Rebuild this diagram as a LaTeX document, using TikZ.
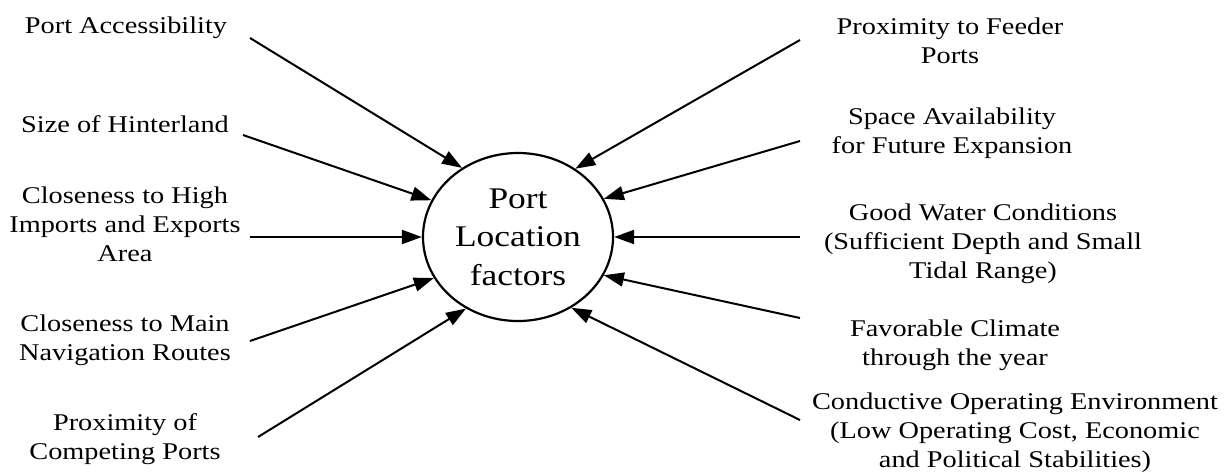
\documentclass[tikz,border=0pt]{standalone}
\usepackage{fontspec}
\setmainfont{Liberation Serif}[FakeStretch=1.18]
\usetikzlibrary{arrows.meta,shapes.geometric}
\tikzset{
  factor/.style={align=center, inner sep=0pt, font=\fontsize{24}{29}\selectfont},
  hub/.style={ellipse, draw, line width=2.2pt, minimum width=190pt, minimum height=168pt,
    inner sep=0pt, align=center, font=\fontsize{30}{38.5}\selectfont},
  link/.style={line width=2pt, -{Triangle[length=20pt,width=14pt]}}
}
\begin{document}
\begin{tikzpicture}[x=1pt,y=-1pt]
\useasboundingbox (0,0) rectangle (1228,475);
\node[hub] (c) at (518,237) {Port\\Location\\factors};

% factors on the left
\node[factor] (l1) at (126,27.4) {Port Accessibility};
\node[factor] (l2) at (125,123.8) {Size of Hinterland};
\node[factor] (l3) at (125,224) {Closeness to High\\Imports and Exports\\Area};
\node[factor] (l4) at (125,340.4) {Closeness to Main\\Navigation Routes};
\node[factor] (l5) at (125,438.9) {Proximity of\\Competing Ports};

% factors on the right
\node[factor] (r1) at (950,40.8) {Proximity to Feeder\\Ports};
\node[factor] (r2) at (952,133) {Space Availability\\for Future Expansion};
\node[factor] (r3) at (983,243.4) {Good Water Conditions\\(Sufficient Depth and Small\\Tidal Range)};
\node[factor] (r4) at (955,345.4) {Favorable Climate\\through the year};
\node[factor] (r5) at (1015,432.9) {Conductive Operating Environment\\(Low Operating Cost, Economic\\and Political Stabilities)};

% arrow tails beside each factor
\coordinate (a1) at (250,38);
\coordinate (a2) at (243,135);
\coordinate (a3) at (250,237);
\coordinate (a4) at (250,341);
\coordinate (a5) at (258,437);
\coordinate (b1) at (800,40);
\coordinate (b2) at (800,141);
\coordinate (b3) at (800,237);
\coordinate (b4) at (800,318);
\coordinate (b5) at (800,420);

\draw[link] (a1) -- (c.129.5);
\draw[link] (a2) -- (c.157.3);
\draw[link] (a3) -- (c.180);
\draw[link] (a4) -- (c.206.3);
\draw[link] (a5) -- (c.234.3);
\draw[link] (b1) -- (c.50.8);
\draw[link] (b2) -- (c.24.6);
\draw[link] (b3) -- (c.0);
\draw[link] (b4) -- (c.336.3);
\draw[link] (b5) -- (c.307.6);
\end{tikzpicture}
\end{document}
